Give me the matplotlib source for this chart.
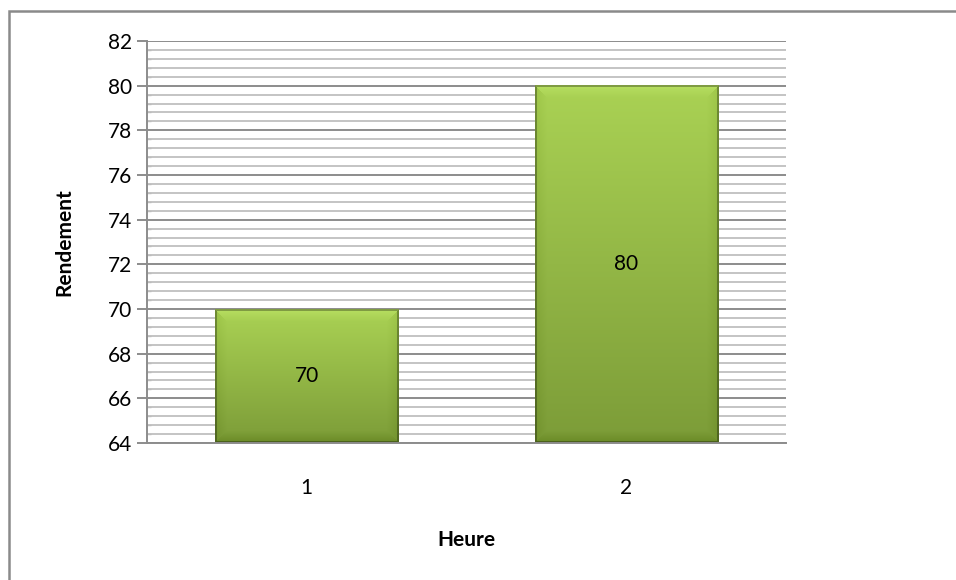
import numpy as np
import matplotlib
matplotlib.use("Agg")
import matplotlib.pyplot as plt
from matplotlib.patches import Rectangle
from matplotlib.ticker import MultipleLocator

plt.rcParams['font.family'] = ['Lato', 'DejaVu Sans']

# data
heures = [1, 2]
rendement = [70, 80]
heure_labels = ["1", "2"]
y_min, y_max = 64, 82

W, H, DPI = 956, 580, 100
fig = plt.figure(figsize=(W / DPI, H / DPI), dpi=DPI)
fig.patch.set_facecolor("white")

# chart-area border
fig.patches.append(Rectangle((9 / W, -0.05), 1.2, 1 - 11 / H + 0.05,
                             transform=fig.transFigure, fill=False,
                             edgecolor="#8a8a8a", linewidth=1.8, zorder=0))

ax = fig.add_axes([147 / W, 1 - 443 / H, (786 - 147) / W, (443 - 41) / H])
ax.set_xlim(0.5, 2.5)
ax.set_ylim(y_min, y_max)

ax.yaxis.set_major_locator(MultipleLocator(2))
ax.yaxis.set_minor_locator(MultipleLocator(0.4))
ax.set_xticks(heures)
ax.set_xticklabels(heure_labels)

ax.grid(True, which="major", axis="y", color="#8c8c8c", linewidth=1.4, zorder=0)
ax.grid(True, which="minor", axis="y", color="#c4c4c4", linewidth=1.4, zorder=0)
ax.set_axisbelow(True)

for s in ("top", "right"):
    ax.spines[s].set_visible(False)
for s in ("left", "bottom"):
    ax.spines[s].set_color("#8c8c8c")
    ax.spines[s].set_linewidth(1.4)

FS = 15
ax.tick_params(axis="y", which="major", direction="out", length=7, width=1.4,
               color="#8c8c8c", labelsize=FS, pad=4)
ax.tick_params(axis="y", which="minor", direction="in", length=3, width=1.0,
               color="#bcbcbc")
ax.tick_params(axis="x", which="major", length=0, labelsize=FS, pad=25)

ax.set_ylabel("Rendement", fontsize=FS, fontweight="bold", labelpad=24)
ax.set_xlabel("Heure", fontsize=FS, fontweight="bold", labelpad=23)

bar_width = 0.573
bars = ax.bar(heures, [v - y_min for v in rendement], bottom=y_min,
              width=bar_width, color="none", edgecolor="none", zorder=2)

fig.canvas.draw()

top_col = np.array([170, 210, 84]) / 255.0
bot_col = np.array([124, 156, 56]) / 255.0

for rect, val in zip(bars, rendement):
    x0 = rect.get_x()
    x1 = x0 + rect.get_width()
    (px0, py0), (px1, py1) = ax.transData.transform([(x0, y_min), (x1, val)])
    wpx = max(int(round(px1 - px0)), 2)
    hpx = max(int(round(py1 - py0)), 2)
    t = np.linspace(0, 1, hpx)[:, None, None]          # 0 top -> 1 bottom
    img = top_col * (1 - t) + bot_col * t
    img = np.broadcast_to(img, (hpx, wpx, 3)).copy()
    # soft bevelled edges
    bev = 12.0
    yy, xx = np.mgrid[0:hpx, 0:wpx].astype(float)
    d_top, d_bot = yy, hpx - 1 - yy
    d_left, d_right = xx, wpx - 1 - xx
    dmin = np.minimum.reduce([d_top, d_bot, d_left, d_right])
    ramp = np.clip(1 - dmin / bev, 0, 1)[..., None]
    shade = np.zeros((hpx, wpx, 1))
    shade += np.where((d_top == dmin)[..., None], 0.05, 0)
    shade += np.where((d_bot == dmin)[..., None] & (d_top != dmin)[..., None], -0.07, 0)
    side = ((d_left == dmin) | (d_right == dmin)) & (d_top != dmin) & (d_bot != dmin)
    shade += np.where(side[..., None], -0.04, 0)
    img = np.clip(img + shade * ramp, 0, 1)
    outline = (dmin < 1.5)[..., None]
    img = np.where(outline, img * 0.7, img)
    ax.imshow(img, extent=(x0, x1, y_min, val), aspect="auto",
              interpolation="bilinear", zorder=2)
    ax.text((x0 + x1) / 2, (y_min + val) / 2, f"{val}", ha="center",
            va="center", fontsize=FS, color="black", zorder=3)

ax.set_xlim(0.5, 2.5)
ax.set_ylim(y_min, y_max)

fig.savefig("out.png", dpi=DPI)
